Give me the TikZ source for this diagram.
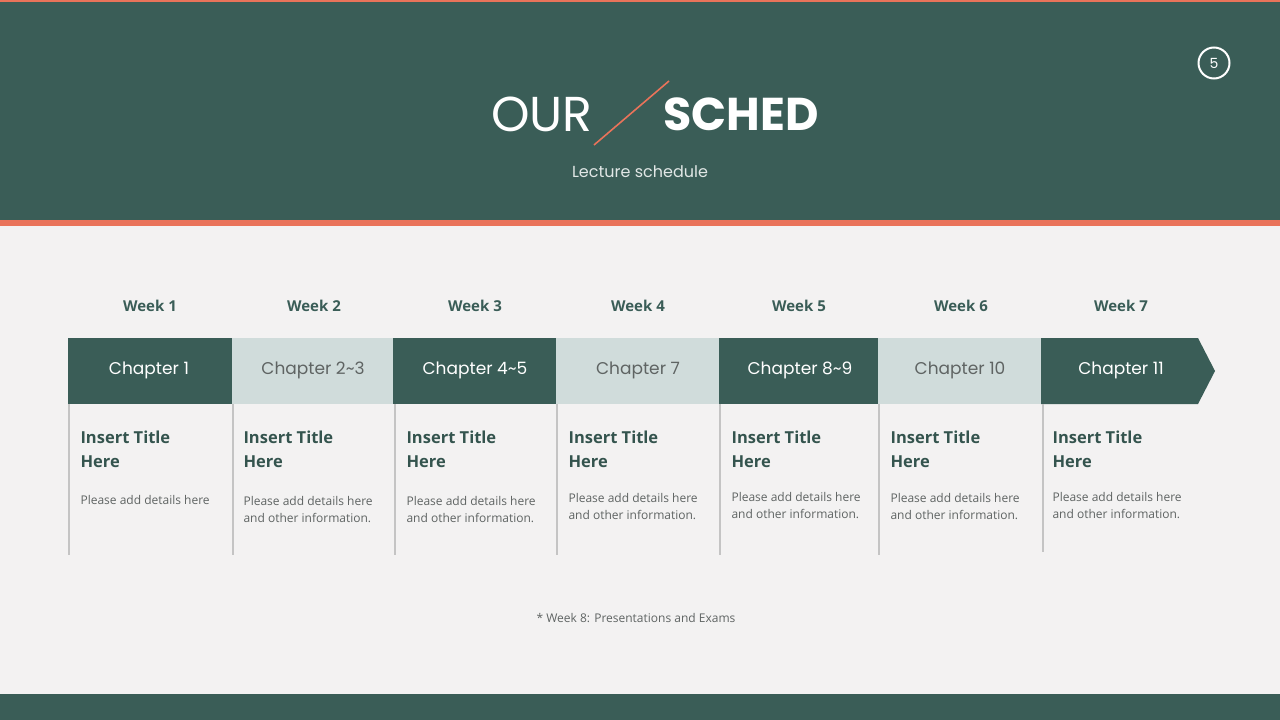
\documentclass[tikz,border=0pt]{standalone}
\usepackage{fontspec}
\setmainfont{Open Sans}
\newfontfamily\headfont{Poppins}
\usepackage{xcolor}
\usetikzlibrary{positioning, calc}

\definecolor{pine}{HTML}{3A5D57}
\definecolor{paper}{HTML}{F3F2F2}
\definecolor{coral}{HTML}{E9735A}
\definecolor{mist}{HTML}{D0DCDB}
\definecolor{rule}{HTML}{C4C4C4}
\definecolor{inkgrey}{HTML}{5F6463}

\begin{document}
\begin{tikzpicture}[x=1pt, y=-1pt,
    week/.style={font=\fontsize{15}{18}\selectfont\bfseries, text=pine},
    chapdark/.style={fill=pine, draw=none},
    chaplight/.style={fill=mist, draw=none},
    chaptext/.style={font=\headfont\fontsize{17}{20}\selectfont},
    ttl/.style={anchor=west, align=left, text=pine!90!black, font=\fontsize{16.5}{23.5}\selectfont\bfseries},
    info/.style={anchor=west, align=left, text=inkgrey, font=\fontsize{12}{17}\selectfont},
    divider/.style={rule, line width=2pt}]
    \useasboundingbox (0,0) rectangle (1280,720);

    % background and bands
    \fill[paper] (0,0) rectangle (1280,720);
    \fill[pine] (0,0) rectangle (1280,221);
    \fill[coral] (0,0) rectangle (1280,1.5);
    \fill[coral] (0,220) rectangle (1280,225.5);
    \fill[pine] (0,694) rectangle (1280,720);

    % heading
    \node[text=white, font=\headfont\fontsize{49}{52}\selectfont] (our) at (542,114) {OUR};
    \node[text=white, font=\headfont\fontsize{46}{50}\selectfont\bfseries] (sched) at (741,114) {SCHED};
    \draw[coral, line width=1.6pt] (594,145) -- (669,81);
    \node[text=white!85!pine, font=\headfont\fontsize{16}{19}\selectfont] (sub) at (640,172) {Lecture schedule};
    \node[circle, draw=white, line width=2pt, minimum size=31pt, inner sep=0pt,
          text=white, font=\headfont\fontsize{14}{16}\selectfont] (page) at (1214,63) {5};

    % week labels
    \node[week] (w1) at (150,306) {Week 1};
    \node[week] (w2) at (314,306) {Week 2};
    \node[week] (w3) at (475,306) {Week 3};
    \node[week] (w4) at (638,306) {Week 4};
    \node[week] (w5) at (799,306) {Week 5};
    \node[week] (w6) at (961,306) {Week 6};
    \node[week] (w7) at (1121,306) {Week 7};

    % chapter bar
    \fill[chapdark] (68,338) rectangle (232,404);
    \fill[chaplight] (232,338) rectangle (393,404);
    \fill[chapdark] (393,338) rectangle (556,404);
    \fill[chaplight] (556,338) rectangle (719,404);
    \fill[chapdark] (719,338) rectangle (878,404);
    \fill[chaplight] (878,338) rectangle (1041,404);
    \fill[chapdark] (1041,338) -- (1198,338) -- (1215,371) -- (1198,404) -- (1041,404) -- cycle;

    \node[chaptext, text=white] (c1) at (149,370) {Chapter 1};
    \node[chaptext, text=inkgrey] (c2) at (313,370) {Chapter 2\char`~3};
    \node[chaptext, text=white] (c3) at (475,370) {Chapter 4\char`~5};
    \node[chaptext, text=inkgrey] (c4) at (638,370) {Chapter 7};
    \node[chaptext, text=white] (c5) at (800,370) {Chapter 8\char`~9};
    \node[chaptext, text=inkgrey] (c6) at (960,370) {Chapter 10};
    \node[chaptext, text=white] (c7) at (1121,370) {Chapter 11};

    % dividers
    \draw[divider] (69,404) -- (69,555);
    \draw[divider] (232.5,404) -- (232.5,555);
    \draw[divider] (394.5,404) -- (394.5,555);
    \draw[divider] (556.5,404) -- (556.5,555);
    \draw[divider] (719.5,404) -- (719.5,555);
    \draw[divider] (878.5,404) -- (878.5,555);
    \draw[divider] (1042.5,404) -- (1042.5,552);

    % titles
    \node[ttl] (t1) at (77,449.5) {Insert Title\\Here};
    \node[ttl] (t2) at (240,449.5) {Insert Title\\Here};
    \node[ttl] (t3) at (403,449.5) {Insert Title\\Here};
    \node[ttl] (t4) at (565,449.5) {Insert Title\\Here};
    \node[ttl] (t5) at (728,449.5) {Insert Title\\Here};
    \node[ttl] (t6) at (887,449.5) {Insert Title\\Here};
    \node[ttl] (t7) at (1049,449.5) {Insert Title\\Here};

    % details
    \node[info] (d1) at (77,499.5) {Please add details here};
    \node[info] (d2) at (240,510) {Please add details here\\and other information.};
    \node[info] (d3) at (403,510) {Please add details here\\and other information.};
    \node[info] (d4) at (565,507) {Please add details here\\and other information.};
    \node[info] (d5) at (728,506) {Please add details here\\and other information.};
    \node[info] (d6) at (887,507) {Please add details here\\and other information.};
    \node[info] (d7) at (1049,506) {Please add details here\\and other information.};

    % footnote
    \node[info, anchor=center] (note) at (636,618) {* Week 8: Presentations and Exams};
\end{tikzpicture}
\end{document}
